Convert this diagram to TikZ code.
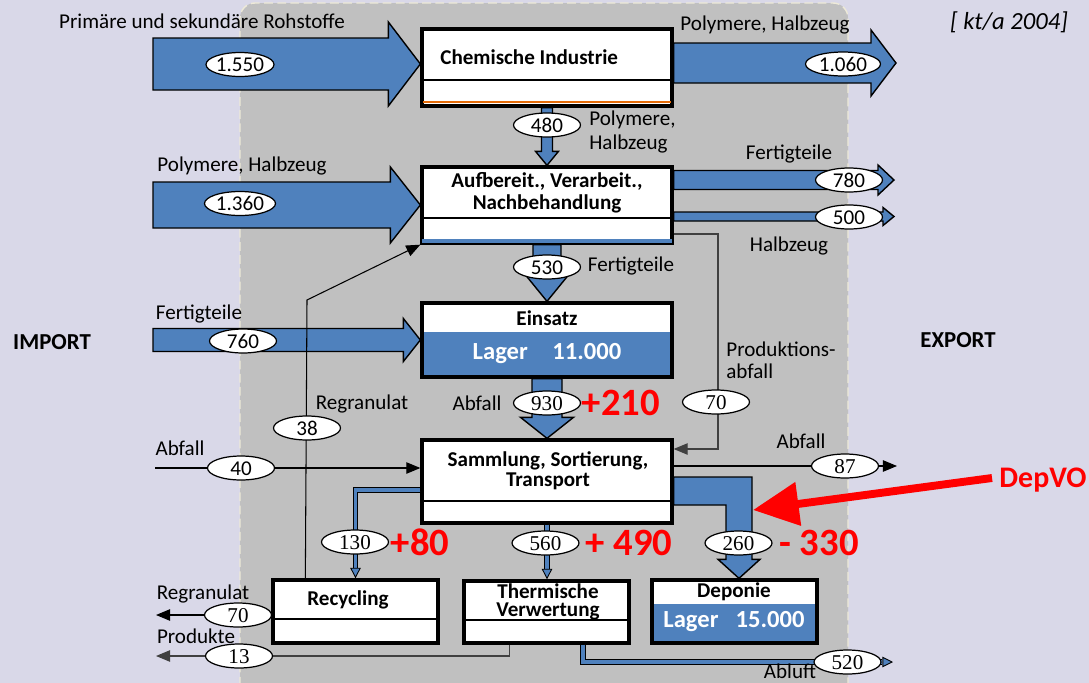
\documentclass[tikz,border=0pt]{standalone}
\usepackage{fontspec}
\setmainfont{Carlito}
\newfontfamily\numserif{Liberation Serif}
\usepackage{tikz}
\usetikzlibrary{arrows.meta,positioning,shapes.geometric,calc}

\definecolor{lavbg}{RGB}{217,216,232}
\definecolor{panelgray}{RGB}{192,192,192}
\definecolor{panelrim}{RGB}{238,234,216}
\definecolor{flowblue}{RGB}{79,129,189}
\definecolor{chemorange}{RGB}{228,108,10}
\definecolor{wire}{RGB}{64,64,64}

\newcommand{\twelve}{\fontsize{12}{14}\selectfont}

\tikzset{
  box/.style={draw,line width=1.9pt,fill=white,minimum width=5cm,inner sep=0pt},
  smallbox/.style={box,minimum width=3.3cm,minimum height=1.26cm},
  split/.style={path picture={\draw[line width=0.6pt]
      ([yshift=#1]path picture bounding box.south west) --
      ([yshift=#1]path picture bounding box.south east);}},
  lager/.style={path picture={\fill[flowblue]
      (path picture bounding box.south west) rectangle
      ([yshift=#1]path picture bounding box.south east);}},
  boxtxt/.style={font=\twelve\bfseries,align=center,inner sep=0pt},
  lagertxt/.style={font=\fontsize{14}{16}\selectfont\bfseries,text=white,inner sep=0pt},
  val/.style={ellipse,draw,line width=0.7pt,fill=white,minimum width=1.34cm,
    minimum height=0.48cm,inner sep=0pt,text height=8pt,text depth=0pt,font=\twelve},
  vals/.style={val,font=\twelve\numserif},
  lbl/.style={inner sep=0pt,font=\twelve,text height=8pt,text depth=0pt},
  lbltwo/.style={inner sep=0pt,align=left},
  delta/.style={text=red,font=\fontsize{22}{24}\selectfont\bfseries,inner sep=0pt,
    text height=14pt,text depth=0pt},
  side/.style={font=\fontsize{13}{15}\selectfont\bfseries,inner sep=0pt},
  blk/.style={fill=flowblue,draw=black,line width=0.8pt},
  fl/.style={-{Triangle[length=8pt,width=6.5pt]},line width=0.6pt},
  pipe/.style={draw=black,double=flowblue,double distance=2.2pt,line width=0.5pt},
  pipetip/.style={-{Triangle[length=6pt,width=6pt,fill=flowblue]},line width=0.5pt},
  depvoarrow/.style={draw=red,line width=4.5pt,-{Triangle[length=26pt,width=24pt]}},
}

% block arrows: start, tip, body half, head half, head length (px)
\newcommand{\harrow}[5]{%
  \filldraw[blk] ($(#1|-#2)+(0,-#3)$) -- ($(#2)+(-#5,-#3)$) -- ($(#2)+(-#5,-#4)$)
    -- (#2) -- ($(#2)+(-#5,#4)$) -- ($(#2)+(-#5,#3)$) -- ($(#1|-#2)+(0,#3)$) -- cycle;}
\newcommand{\varrow}[5]{%
  \filldraw[blk] ($(#1-|#2)+(-#3,0)$) -- ($(#2)+(-#3,-#5)$) -- ($(#2)+(-#4,-#5)$)
    -- (#2) -- ($(#2)+(#4,-#5)$) -- ($(#2)+(#3,-#5)$) -- ($(#1-|#2)+(#3,0)$) -- cycle;}

\begin{document}
\begin{tikzpicture}[x=0.02cm,y=-0.02cm,font=\twelve]
  \useasboundingbox (0,0) rectangle (1089,683);
  \fill[lavbg] (0,0) rectangle (1089,683);
  \fill[panelgray,rounded corners=0.3cm] (240,3) rectangle (848,720);
  \draw[panelrim,line width=0.8pt,dash pattern=on 5pt off 2.5pt,rounded corners=0.3cm]
    (240,3) rectangle (848,720);

  % boxes
  \node[box,minimum height=1.54cm,split=0.52cm] (chem) at (547,67.5) {};
  \draw[chemorange,line width=0.8pt] ([shift={(0.05cm,0.11cm)}]chem.south west)
    -- ([shift={(-0.05cm,0.11cm)}]chem.south east);
  \node[box,minimum height=1.52cm,split=0.5cm] (aufb) at (547,205) {};
  \fill[flowblue] ([shift={(0.04cm,0.03cm)}]aufb.south west)
    rectangle ([shift={(-0.04cm,0.11cm)}]aufb.south east);
  \node[box,minimum height=1.48cm,lager=0.9cm] (ein) at (547,340) {};
  \node[box,minimum height=1.66cm,split=0.44cm] (samm) at (547,481.5) {};
  \node[smallbox,split=0.48cm] (recy) at (355.5,611.5) {};
  \node[smallbox,minimum height=1.24cm,split=0.46cm] (therm) at (546.5,612) {};
  \node[smallbox,lager=0.78cm] (depo) at (734.5,611.5) {};

  \node[boxtxt,anchor=west] (chemtxt) at (440,57) {Chemische Industrie};
  \node[boxtxt,font=\fontsize{12}{12.5}\selectfont\bfseries] (aufbtxt) at (547,193)
    {Aufbereit., Verarbeit.,\\Nachbehandlung};
  \node[boxtxt] (eintxt) at (547,318) {Einsatz};
  \node[lagertxt] (einlager) at (547,354) {Lager\quad 11.000};
  \node[boxtxt,font=\fontsize{12}{11.5}\selectfont\bfseries] (sammtxt) at (548,471)
    {Sammlung, Sortierung,\\Transport};
  \node[boxtxt] (recytxt) at (348,600) {Recycling};
  \node[boxtxt,font=\fontsize{12}{10.5}\selectfont\bfseries] (thermtxt) at (548,602)
    {Thermische\\Verwertung};
  \node[boxtxt] (depotxt) at (734,592) {Deponie};
  \node[lagertxt] (depolager) at (734,622) {Lager\hspace{0.7em}15.000};

  % block arrows
  \coordinate (in1) at (153,64);
  \coordinate (chemin) at (chem.west |- in1);
  \harrow{in1}{chemin}{26}{42}{32}
  \coordinate (out1) at (896,63);
  \harrow{chem.east}{out1}{20}{33}{25}
  \coordinate (in2) at (153,205);
  \harrow{in2}{aufb.west}{23}{38}{30}
  \coordinate (out2) at (894,180);
  \harrow{aufb.east}{out2}{9.5}{15}{16}
  \coordinate (out3) at (894,216.5);
  \harrow{aufb.east}{out3}{4.5}{9}{11}
  \coordinate (in3) at (153,340);
  \harrow{in3}{ein.west}{11.5}{21.5}{17}
  \varrow{chem.south}{aufb.north}{5.5}{11.5}{14}
  \varrow{aufb.south}{ein.north}{14}{22}{27}
  \varrow{ein.south}{samm.north}{15}{26.5}{21}

  % band to Deponie
  \coordinate (depin) at ($(depo.north)+(4.5,0)$);
  \coordinate (bandtop) at ($(samm.east)+(0,-4.5)$);
  \coordinate (bandbot) at ($(samm.east)+(0,23.5)$);
  \filldraw[blk] (bandtop) -- ($(bandtop -| depin)+(13,0)$) -- ($(depin)+(13,-19)$)
    -- ($(depin)+(21,-19)$) -- (depin) -- ($(depin)+(-21,-19)$) -- ($(depin)+(-13,-19)$)
    -- ($(bandbot -| depin)+(-13,0)$) -- (bandbot) -- cycle;

  % pipes
  \coordinate (p130) at ($(samm.west)+(0,8.5)$);
  \draw[pipe,shorten >=6pt] (p130) -| (recy.north);
  \draw[pipetip] ($(recy.north)+(0,-10.5)$) -- (recy.north);
  \coordinate (thermin) at (samm.south |- therm.north);
  \draw[pipe,shorten >=6pt] (samm.south) -- (thermin);
  \draw[pipetip] ($(thermin)+(0,-10.5)$) -- (thermin);
  \coordinate (abl) at (893,662);
  \draw[pipe,shorten >=6pt] ($(therm.south)+(36.5,0)$) |- (abl);
  \draw[pipetip] ($(abl)+(-10.5,0)$) -- (abl);

  % thin connectors
  \coordinate (rgk) at (307,300);
  \draw[fl] ($(recy.north west)+(34,0)$) -- (rgk) -- (aufb.south west);
  \coordinate (pwk) at (718,449);
  \draw[fl,draw=wire] ($(aufb.east)+(0,29)$) -| (pwk) -- (pwk -| samm.east);
  \coordinate (ab0) at (155,468);
  \draw[fl] (ab0) -- (ab0 -| samm.west);
  \coordinate (ab1) at (897,466);
  \draw[fl] (ab1 -| samm.east) -- (ab1);
  \coordinate (rg2) at (156,615);
  \draw[fl] (rg2 -| recy.west) -- (rg2);
  \coordinate (pr) at (156,656);
  \draw[fl,draw=wire] ($(therm.south)+(-37,0)$) |- (pr);

  % values
  \node[val] (v1550) at (240,64.5) {1.550};
  \node[val,minimum width=1.5cm] (v1060) at (843,64) {1.060};
  \node[val] (v480) at (547,125) {480};
  \node[val,minimum width=1.42cm] (v1360) at (240,203.5) {1.360};
  \node[val] (v780) at (849,180) {780};
  \node[val] (v500) at (849,217) {500};
  \node[val] (v530) at (547,267) {530};
  \node[val] (v760) at (243,341) {760};
  \node[vals] (v930) at (547,403) {930};
  \node[vals] (v70a) at (716,402) {70};
  \node[val] (v38) at (307,428) {38};
  \node[val] (v40) at (241,468) {40};
  \node[vals] (v87) at (845,466) {87};
  \node[vals] (v130) at (355,542) {130};
  \node[vals] (v560) at (545.5,543) {560};
  \node[vals] (v260) at (738.5,543) {260};
  \node[vals] (v70b) at (238,615) {70};
  \node[vals] (v13) at (239,656) {13};
  \node[vals] (v520) at (847.5,662) {520};

  % labels
  \node[lbl] (lrohst) at (202,21) {Primäre und sekundäre Rohstoffe};
  \node[lbl] (lpolyo) at (765,23) {Polymere, Halbzeug};
  \node[lbltwo,anchor=west,font=\fontsize{12}{14}\selectfont] (lpolyd) at (589,132)
    {Polymere,\\Halbzeug};
  \node[lbl] (lpolyi) at (242,164) {Polymere, Halbzeug};
  \node[lbl] (lfertO) at (789,152) {Fertigteile};
  \node[lbl] (lhalbO) at (789,244) {Halbzeug};
  \node[lbl] (lfertD) at (631,264) {Fertigteile};
  \node[lbl] (lfertI) at (199,312) {Fertigteile};
  \node[lbltwo,anchor=west,font=\fontsize{12}{12.5}\selectfont] (lprodab) at (726,360)
    {Produktions-\\abfall};
  \node[lbl] (labf1) at (477,403) {Abfall};
  \node[lbl] (lregr1) at (362,402) {Regranulat};
  \node[lbl] (labfI) at (180,448) {Abfall};
  \node[lbl] (labfO) at (801,441) {Abfall};
  \node[lbl] (lregr2) at (203,592) {Regranulat};
  \node[lbl] (lprodk) at (196,636) {Produkte};
  \node[lbl] (labl) at (790,671) {Abluft};

  \node[side] (limport) at (52,342) {IMPORT};
  \node[side] (lexport) at (958,340) {EXPORT};
  \node[inner sep=0pt,font=\fontsize{14}{16}\selectfont\itshape] (lunit) at (1009,22)
    {[ kt/a 2004]};

  % changes
  \node[delta] (d210) at (621,403) {+210};
  \node[delta] (d80) at (420,543) {+80};
  \node[delta] (d490) at (629,543) {+ 490};
  \node[delta] (d330) at (819,543) {- 330};
  \node[text=red,font=\fontsize{17}{19}\selectfont\bfseries,inner sep=4pt,
    text height=11pt,text depth=0pt] (depvo) at (1043,478) {DepVO};
  \coordinate (depvotip) at (753,510);
  \draw[depvoarrow] (depvo.west) -- (depvotip);
\end{tikzpicture}
\end{document}
